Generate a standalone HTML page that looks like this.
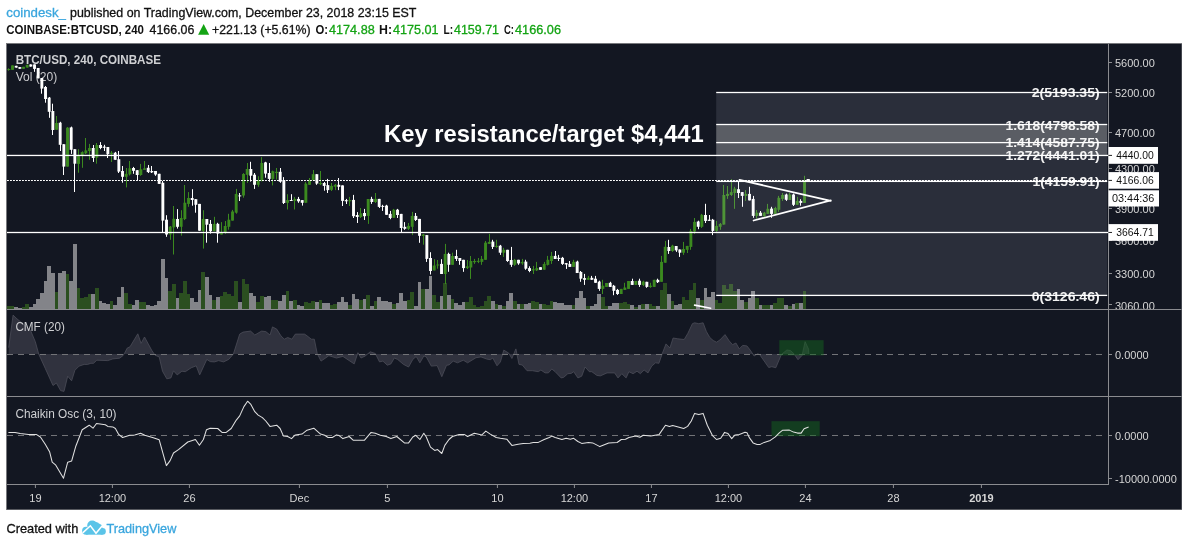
<!DOCTYPE html>
<html><head><meta charset="utf-8"><title>BTCUSD chart</title>
<style>html,body{margin:0;padding:0;background:#fff}body{width:1188px;height:546px;overflow:hidden;font-family:"Liberation Sans",sans-serif}</style>
</head><body>
<svg width="1188" height="546" viewBox="0 0 1188 546" style="display:block;will-change:transform">
<rect width="1188" height="546" fill="#fff"/>
<text x="6.3" y="17" font-family="Liberation Sans, sans-serif" font-size="13" fill="#3aa6de" font-weight="normal" text-anchor="start" textLength="59.7" lengthAdjust="spacingAndGlyphs" stroke="#3aa6de" stroke-width="0.3">coindesk_</text>
<text x="70" y="17" font-family="Liberation Sans, sans-serif" font-size="13" fill="#111" font-weight="normal" text-anchor="start" textLength="346.4" lengthAdjust="spacingAndGlyphs" stroke="#111" stroke-width="0.3">published on TradingView.com, December 23, 2018 23:15 EST</text>
<text x="6.3" y="34" font-family="Liberation Sans, sans-serif" font-size="13" fill="#111" font-weight="bold" text-anchor="start" textLength="137.7" lengthAdjust="spacingAndGlyphs">COINBASE:BTCUSD, 240</text>
<text x="149.5" y="34" font-family="Liberation Sans, sans-serif" font-size="13" fill="#111" font-weight="normal" text-anchor="start" textLength="44.9" lengthAdjust="spacingAndGlyphs" stroke="#111" stroke-width="0.3">4166.06</text>
<path d="M198.1 34.7 L203.65 24 L209.2 34.7 Z" fill="#14a414"/>
<text x="212" y="34" font-family="Liberation Sans, sans-serif" font-size="13" fill="#111" font-weight="normal" text-anchor="start" textLength="98.6" lengthAdjust="spacingAndGlyphs" stroke="#111" stroke-width="0.3">+221.13 (+5.61%)</text>
<text x="315.4" y="34" font-family="Liberation Sans, sans-serif" font-size="13" fill="#111" font-weight="bold" text-anchor="start" textLength="12.6" lengthAdjust="spacingAndGlyphs">O:</text>
<text x="329" y="34" font-family="Liberation Sans, sans-serif" font-size="13" fill="#14a414" font-weight="normal" text-anchor="start" textLength="45.7" lengthAdjust="spacingAndGlyphs" stroke="#14a414" stroke-width="0.3">4174.88</text>
<text x="379" y="34" font-family="Liberation Sans, sans-serif" font-size="13" fill="#111" font-weight="bold" text-anchor="start" textLength="13" lengthAdjust="spacingAndGlyphs">H:</text>
<text x="393" y="34" font-family="Liberation Sans, sans-serif" font-size="13" fill="#14a414" font-weight="normal" text-anchor="start" textLength="45.6" lengthAdjust="spacingAndGlyphs" stroke="#14a414" stroke-width="0.3">4175.01</text>
<text x="443.6" y="34" font-family="Liberation Sans, sans-serif" font-size="13" fill="#111" font-weight="bold" text-anchor="start" textLength="9.6" lengthAdjust="spacingAndGlyphs">L:</text>
<text x="454" y="34" font-family="Liberation Sans, sans-serif" font-size="13" fill="#14a414" font-weight="normal" text-anchor="start" textLength="45" lengthAdjust="spacingAndGlyphs" stroke="#14a414" stroke-width="0.3">4159.71</text>
<text x="504" y="34" font-family="Liberation Sans, sans-serif" font-size="13" fill="#111" font-weight="bold" text-anchor="start" textLength="10" lengthAdjust="spacingAndGlyphs">C:</text>
<text x="515" y="34" font-family="Liberation Sans, sans-serif" font-size="13" fill="#14a414" font-weight="normal" text-anchor="start" textLength="46" lengthAdjust="spacingAndGlyphs" stroke="#14a414" stroke-width="0.3">4166.06</text>
<rect x="6" y="43" width="1176" height="467" fill="#77787c"/>
<rect x="7" y="44" width="1174.5" height="465.3" fill="#131722"/>
<text x="15.7" y="64.3" font-family="Liberation Sans, sans-serif" font-size="12" fill="#cfd0d3" font-weight="bold" text-anchor="start" textLength="145.3" lengthAdjust="spacingAndGlyphs">BTC/USD, 240, COINBASE</text>
<text x="15.7" y="81.4" font-family="Liberation Sans, sans-serif" font-size="12.3" fill="#c9cacd" font-weight="normal" text-anchor="start" textLength="41.6" lengthAdjust="spacingAndGlyphs">Vol (20)</text>
<rect x="7.02" y="306.1" width="3.67" height="3.1" fill="#2b4f20" shape-rendering="crispEdges"/>
<rect x="10.68" y="306.1" width="3.67" height="3.1" fill="#2b4f20" shape-rendering="crispEdges"/>
<rect x="14.35" y="307.3" width="3.67" height="1.9" fill="#838489" shape-rendering="crispEdges"/>
<rect x="18.02" y="308" width="3.67" height="1.2" fill="#838489" shape-rendering="crispEdges"/>
<rect x="21.68" y="307" width="3.67" height="2.2" fill="#2b4f20" shape-rendering="crispEdges"/>
<rect x="25.35" y="304.1" width="3.67" height="5.1" fill="#2b4f20" shape-rendering="crispEdges"/>
<rect x="29.02" y="307" width="3.67" height="2.2" fill="#838489" shape-rendering="crispEdges"/>
<rect x="32.68" y="304.1" width="3.67" height="5.1" fill="#838489" shape-rendering="crispEdges"/>
<rect x="36.35" y="299.1" width="3.67" height="10.1" fill="#838489" shape-rendering="crispEdges"/>
<rect x="40.02" y="293" width="3.67" height="16.2" fill="#838489" shape-rendering="crispEdges"/>
<rect x="43.68" y="280.8" width="3.67" height="28.4" fill="#838489" shape-rendering="crispEdges"/>
<rect x="47.35" y="265.8" width="3.67" height="43.4" fill="#838489" shape-rendering="crispEdges"/>
<rect x="51.02" y="272.9" width="3.67" height="36.3" fill="#838489" shape-rendering="crispEdges"/>
<rect x="54.68" y="292" width="3.67" height="17.2" fill="#2b4f20" shape-rendering="crispEdges"/>
<rect x="58.35" y="272.9" width="3.67" height="36.3" fill="#838489" shape-rendering="crispEdges"/>
<rect x="62.02" y="271.1" width="3.67" height="38.1" fill="#838489" shape-rendering="crispEdges"/>
<rect x="65.68" y="273.9" width="3.67" height="35.3" fill="#2b4f20" shape-rendering="crispEdges"/>
<rect x="69.35" y="280.8" width="3.67" height="28.4" fill="#838489" shape-rendering="crispEdges"/>
<rect x="73.02" y="243.9" width="3.67" height="65.3" fill="#838489" shape-rendering="crispEdges"/>
<rect x="76.68" y="287.9" width="3.67" height="21.3" fill="#2b4f20" shape-rendering="crispEdges"/>
<rect x="80.35" y="297.7" width="3.67" height="11.5" fill="#2b4f20" shape-rendering="crispEdges"/>
<rect x="84.02" y="296.8" width="3.67" height="12.4" fill="#2b4f20" shape-rendering="crispEdges"/>
<rect x="87.68" y="294" width="3.67" height="15.2" fill="#2b4f20" shape-rendering="crispEdges"/>
<rect x="91.35" y="294" width="3.67" height="15.2" fill="#838489" shape-rendering="crispEdges"/>
<rect x="95.02" y="287.9" width="3.67" height="21.3" fill="#2b4f20" shape-rendering="crispEdges"/>
<rect x="98.68" y="300.8" width="3.67" height="8.4" fill="#838489" shape-rendering="crispEdges"/>
<rect x="102.35" y="303" width="3.67" height="6.2" fill="#838489" shape-rendering="crispEdges"/>
<rect x="106.02" y="304.1" width="3.67" height="5.1" fill="#838489" shape-rendering="crispEdges"/>
<rect x="109.68" y="300.8" width="3.67" height="8.4" fill="#2b4f20" shape-rendering="crispEdges"/>
<rect x="113.35" y="305.1" width="3.67" height="4.1" fill="#838489" shape-rendering="crispEdges"/>
<rect x="117.02" y="296.8" width="3.67" height="12.4" fill="#838489" shape-rendering="crispEdges"/>
<rect x="120.68" y="286.8" width="3.67" height="22.4" fill="#838489" shape-rendering="crispEdges"/>
<rect x="124.35" y="293" width="3.67" height="16.2" fill="#2b4f20" shape-rendering="crispEdges"/>
<rect x="128.02" y="304.1" width="3.67" height="5.1" fill="#2b4f20" shape-rendering="crispEdges"/>
<rect x="131.68" y="305.1" width="3.67" height="4.1" fill="#838489" shape-rendering="crispEdges"/>
<rect x="135.35" y="300.1" width="3.67" height="9.1" fill="#838489" shape-rendering="crispEdges"/>
<rect x="139.02" y="302" width="3.67" height="7.2" fill="#2b4f20" shape-rendering="crispEdges"/>
<rect x="142.68" y="302" width="3.67" height="7.2" fill="#2b4f20" shape-rendering="crispEdges"/>
<rect x="146.35" y="305.1" width="3.67" height="4.1" fill="#838489" shape-rendering="crispEdges"/>
<rect x="150.02" y="305.8" width="3.67" height="3.4" fill="#838489" shape-rendering="crispEdges"/>
<rect x="153.68" y="305.1" width="3.67" height="4.1" fill="#838489" shape-rendering="crispEdges"/>
<rect x="157.35" y="300.8" width="3.67" height="8.4" fill="#838489" shape-rendering="crispEdges"/>
<rect x="161.02" y="259" width="3.67" height="50.2" fill="#838489" shape-rendering="crispEdges"/>
<rect x="164.68" y="277.9" width="3.67" height="31.3" fill="#838489" shape-rendering="crispEdges"/>
<rect x="168.35" y="290.8" width="3.67" height="18.4" fill="#2b4f20" shape-rendering="crispEdges"/>
<rect x="172.02" y="283.9" width="3.67" height="25.3" fill="#2b4f20" shape-rendering="crispEdges"/>
<rect x="175.68" y="298" width="3.67" height="11.2" fill="#838489" shape-rendering="crispEdges"/>
<rect x="179.35" y="293" width="3.67" height="16.2" fill="#2b4f20" shape-rendering="crispEdges"/>
<rect x="183.02" y="280.8" width="3.67" height="28.4" fill="#2b4f20" shape-rendering="crispEdges"/>
<rect x="186.68" y="293.7" width="3.67" height="15.5" fill="#2b4f20" shape-rendering="crispEdges"/>
<rect x="190.35" y="298" width="3.67" height="11.2" fill="#838489" shape-rendering="crispEdges"/>
<rect x="194.02" y="302" width="3.67" height="7.2" fill="#838489" shape-rendering="crispEdges"/>
<rect x="197.69" y="289.8" width="3.67" height="19.4" fill="#838489" shape-rendering="crispEdges"/>
<rect x="201.35" y="271.9" width="3.67" height="37.3" fill="#2b4f20" shape-rendering="crispEdges"/>
<rect x="205.02" y="276.9" width="3.67" height="32.3" fill="#838489" shape-rendering="crispEdges"/>
<rect x="208.69" y="295.1" width="3.67" height="14.1" fill="#838489" shape-rendering="crispEdges"/>
<rect x="212.35" y="300.1" width="3.67" height="9.1" fill="#2b4f20" shape-rendering="crispEdges"/>
<rect x="216.02" y="296.8" width="3.67" height="12.4" fill="#838489" shape-rendering="crispEdges"/>
<rect x="219.69" y="295.8" width="3.67" height="13.4" fill="#2b4f20" shape-rendering="crispEdges"/>
<rect x="223.35" y="292" width="3.67" height="17.2" fill="#2b4f20" shape-rendering="crispEdges"/>
<rect x="227.02" y="294" width="3.67" height="15.2" fill="#2b4f20" shape-rendering="crispEdges"/>
<rect x="230.69" y="295.8" width="3.67" height="13.4" fill="#2b4f20" shape-rendering="crispEdges"/>
<rect x="234.35" y="280.8" width="3.67" height="28.4" fill="#2b4f20" shape-rendering="crispEdges"/>
<rect x="238.02" y="302" width="3.67" height="7.2" fill="#838489" shape-rendering="crispEdges"/>
<rect x="241.69" y="278.9" width="3.67" height="30.3" fill="#2b4f20" shape-rendering="crispEdges"/>
<rect x="245.35" y="283.9" width="3.67" height="25.3" fill="#2b4f20" shape-rendering="crispEdges"/>
<rect x="249.02" y="293" width="3.67" height="16.2" fill="#838489" shape-rendering="crispEdges"/>
<rect x="252.69" y="295.8" width="3.67" height="13.4" fill="#838489" shape-rendering="crispEdges"/>
<rect x="256.35" y="302" width="3.67" height="7.2" fill="#2b4f20" shape-rendering="crispEdges"/>
<rect x="260.02" y="295.8" width="3.67" height="13.4" fill="#2b4f20" shape-rendering="crispEdges"/>
<rect x="263.69" y="296.8" width="3.67" height="12.4" fill="#838489" shape-rendering="crispEdges"/>
<rect x="267.35" y="295.8" width="3.67" height="13.4" fill="#838489" shape-rendering="crispEdges"/>
<rect x="271.02" y="299.8" width="3.67" height="9.4" fill="#2b4f20" shape-rendering="crispEdges"/>
<rect x="274.69" y="299.8" width="3.67" height="9.4" fill="#2b4f20" shape-rendering="crispEdges"/>
<rect x="278.35" y="300.8" width="3.67" height="8.4" fill="#838489" shape-rendering="crispEdges"/>
<rect x="282.02" y="294.8" width="3.67" height="14.4" fill="#838489" shape-rendering="crispEdges"/>
<rect x="285.69" y="290.8" width="3.67" height="18.4" fill="#2b4f20" shape-rendering="crispEdges"/>
<rect x="289.35" y="300.8" width="3.67" height="8.4" fill="#838489" shape-rendering="crispEdges"/>
<rect x="293.02" y="299.8" width="3.67" height="9.4" fill="#2b4f20" shape-rendering="crispEdges"/>
<rect x="296.69" y="304.8" width="3.67" height="4.4" fill="#838489" shape-rendering="crispEdges"/>
<rect x="300.35" y="305.8" width="3.67" height="3.4" fill="#838489" shape-rendering="crispEdges"/>
<rect x="304.02" y="302" width="3.67" height="7.2" fill="#2b4f20" shape-rendering="crispEdges"/>
<rect x="307.69" y="303" width="3.67" height="6.2" fill="#2b4f20" shape-rendering="crispEdges"/>
<rect x="311.35" y="300.8" width="3.67" height="8.4" fill="#2b4f20" shape-rendering="crispEdges"/>
<rect x="315.02" y="302" width="3.67" height="7.2" fill="#838489" shape-rendering="crispEdges"/>
<rect x="318.69" y="299.8" width="3.67" height="9.4" fill="#2b4f20" shape-rendering="crispEdges"/>
<rect x="322.35" y="303" width="3.67" height="6.2" fill="#838489" shape-rendering="crispEdges"/>
<rect x="326.02" y="303" width="3.67" height="6.2" fill="#838489" shape-rendering="crispEdges"/>
<rect x="329.69" y="305.1" width="3.67" height="4.1" fill="#2b4f20" shape-rendering="crispEdges"/>
<rect x="333.35" y="304.1" width="3.67" height="5.1" fill="#2b4f20" shape-rendering="crispEdges"/>
<rect x="337.02" y="302" width="3.67" height="7.2" fill="#838489" shape-rendering="crispEdges"/>
<rect x="340.69" y="296.8" width="3.67" height="12.4" fill="#838489" shape-rendering="crispEdges"/>
<rect x="344.35" y="302" width="3.67" height="7.2" fill="#838489" shape-rendering="crispEdges"/>
<rect x="348.02" y="305.1" width="3.67" height="4.1" fill="#2b4f20" shape-rendering="crispEdges"/>
<rect x="351.69" y="293.7" width="3.67" height="15.5" fill="#838489" shape-rendering="crispEdges"/>
<rect x="355.35" y="299.1" width="3.67" height="10.1" fill="#838489" shape-rendering="crispEdges"/>
<rect x="359.02" y="299.8" width="3.67" height="9.4" fill="#2b4f20" shape-rendering="crispEdges"/>
<rect x="362.69" y="299.1" width="3.67" height="10.1" fill="#838489" shape-rendering="crispEdges"/>
<rect x="366.35" y="295.1" width="3.67" height="14.1" fill="#2b4f20" shape-rendering="crispEdges"/>
<rect x="370.02" y="306.1" width="3.67" height="3.1" fill="#838489" shape-rendering="crispEdges"/>
<rect x="373.69" y="301.1" width="3.67" height="8.1" fill="#2b4f20" shape-rendering="crispEdges"/>
<rect x="377.35" y="296.8" width="3.67" height="12.4" fill="#838489" shape-rendering="crispEdges"/>
<rect x="381.02" y="300.8" width="3.67" height="8.4" fill="#838489" shape-rendering="crispEdges"/>
<rect x="384.69" y="300.8" width="3.67" height="8.4" fill="#838489" shape-rendering="crispEdges"/>
<rect x="388.35" y="302" width="3.67" height="7.2" fill="#838489" shape-rendering="crispEdges"/>
<rect x="392.02" y="304.1" width="3.67" height="5.1" fill="#2b4f20" shape-rendering="crispEdges"/>
<rect x="395.69" y="303" width="3.67" height="6.2" fill="#838489" shape-rendering="crispEdges"/>
<rect x="399.35" y="293" width="3.67" height="16.2" fill="#838489" shape-rendering="crispEdges"/>
<rect x="403.02" y="300.8" width="3.67" height="8.4" fill="#838489" shape-rendering="crispEdges"/>
<rect x="406.69" y="300.1" width="3.67" height="9.1" fill="#2b4f20" shape-rendering="crispEdges"/>
<rect x="410.35" y="292" width="3.67" height="17.2" fill="#2b4f20" shape-rendering="crispEdges"/>
<rect x="414.02" y="306.1" width="3.67" height="3.1" fill="#838489" shape-rendering="crispEdges"/>
<rect x="417.69" y="281.9" width="3.67" height="27.3" fill="#838489" shape-rendering="crispEdges"/>
<rect x="421.35" y="289.1" width="3.67" height="20.1" fill="#2b4f20" shape-rendering="crispEdges"/>
<rect x="425.02" y="289.1" width="3.67" height="20.1" fill="#838489" shape-rendering="crispEdges"/>
<rect x="428.69" y="275.8" width="3.67" height="33.4" fill="#838489" shape-rendering="crispEdges"/>
<rect x="432.35" y="295.1" width="3.67" height="14.1" fill="#2b4f20" shape-rendering="crispEdges"/>
<rect x="436.02" y="302" width="3.67" height="7.2" fill="#2b4f20" shape-rendering="crispEdges"/>
<rect x="439.69" y="295.8" width="3.67" height="13.4" fill="#838489" shape-rendering="crispEdges"/>
<rect x="443.35" y="283" width="3.67" height="26.2" fill="#2b4f20" shape-rendering="crispEdges"/>
<rect x="447.02" y="295.1" width="3.67" height="14.1" fill="#838489" shape-rendering="crispEdges"/>
<rect x="450.69" y="299.1" width="3.67" height="10.1" fill="#2b4f20" shape-rendering="crispEdges"/>
<rect x="454.35" y="303" width="3.67" height="6.2" fill="#838489" shape-rendering="crispEdges"/>
<rect x="458.02" y="305.1" width="3.67" height="4.1" fill="#838489" shape-rendering="crispEdges"/>
<rect x="461.69" y="302" width="3.67" height="7.2" fill="#838489" shape-rendering="crispEdges"/>
<rect x="465.35" y="302" width="3.67" height="7.2" fill="#2b4f20" shape-rendering="crispEdges"/>
<rect x="469.02" y="296.8" width="3.67" height="12.4" fill="#2b4f20" shape-rendering="crispEdges"/>
<rect x="472.69" y="304.8" width="3.67" height="4.4" fill="#2b4f20" shape-rendering="crispEdges"/>
<rect x="476.35" y="306.5" width="3.67" height="2.7" fill="#2b4f20" shape-rendering="crispEdges"/>
<rect x="480.02" y="305.8" width="3.67" height="3.4" fill="#2b4f20" shape-rendering="crispEdges"/>
<rect x="483.69" y="301.1" width="3.67" height="8.1" fill="#2b4f20" shape-rendering="crispEdges"/>
<rect x="487.35" y="295.8" width="3.67" height="13.4" fill="#2b4f20" shape-rendering="crispEdges"/>
<rect x="491.02" y="300.8" width="3.67" height="8.4" fill="#838489" shape-rendering="crispEdges"/>
<rect x="494.69" y="304.1" width="3.67" height="5.1" fill="#2b4f20" shape-rendering="crispEdges"/>
<rect x="498.35" y="305.1" width="3.67" height="4.1" fill="#838489" shape-rendering="crispEdges"/>
<rect x="502.02" y="306.1" width="3.67" height="3.1" fill="#2b4f20" shape-rendering="crispEdges"/>
<rect x="505.69" y="300.8" width="3.67" height="8.4" fill="#838489" shape-rendering="crispEdges"/>
<rect x="509.35" y="293" width="3.67" height="16.2" fill="#838489" shape-rendering="crispEdges"/>
<rect x="513.02" y="300.8" width="3.67" height="8.4" fill="#2b4f20" shape-rendering="crispEdges"/>
<rect x="516.69" y="304.1" width="3.67" height="5.1" fill="#838489" shape-rendering="crispEdges"/>
<rect x="520.35" y="304.1" width="3.67" height="5.1" fill="#2b4f20" shape-rendering="crispEdges"/>
<rect x="524.02" y="304.1" width="3.67" height="5.1" fill="#838489" shape-rendering="crispEdges"/>
<rect x="527.69" y="303" width="3.67" height="6.2" fill="#838489" shape-rendering="crispEdges"/>
<rect x="531.35" y="301.1" width="3.67" height="8.1" fill="#2b4f20" shape-rendering="crispEdges"/>
<rect x="535.02" y="302" width="3.67" height="7.2" fill="#2b4f20" shape-rendering="crispEdges"/>
<rect x="538.69" y="304.1" width="3.67" height="5.1" fill="#838489" shape-rendering="crispEdges"/>
<rect x="542.35" y="304.1" width="3.67" height="5.1" fill="#2b4f20" shape-rendering="crispEdges"/>
<rect x="546.02" y="304.8" width="3.67" height="4.4" fill="#2b4f20" shape-rendering="crispEdges"/>
<rect x="549.69" y="301.1" width="3.67" height="8.1" fill="#2b4f20" shape-rendering="crispEdges"/>
<rect x="553.35" y="302" width="3.67" height="7.2" fill="#838489" shape-rendering="crispEdges"/>
<rect x="557.02" y="303" width="3.67" height="6.2" fill="#838489" shape-rendering="crispEdges"/>
<rect x="560.69" y="303" width="3.67" height="6.2" fill="#838489" shape-rendering="crispEdges"/>
<rect x="564.36" y="305.1" width="3.67" height="4.1" fill="#838489" shape-rendering="crispEdges"/>
<rect x="568.02" y="305.1" width="3.67" height="4.1" fill="#838489" shape-rendering="crispEdges"/>
<rect x="571.69" y="305.1" width="3.67" height="4.1" fill="#2b4f20" shape-rendering="crispEdges"/>
<rect x="575.36" y="298" width="3.67" height="11.2" fill="#838489" shape-rendering="crispEdges"/>
<rect x="579.02" y="291.1" width="3.67" height="18.1" fill="#838489" shape-rendering="crispEdges"/>
<rect x="582.69" y="298" width="3.67" height="11.2" fill="#838489" shape-rendering="crispEdges"/>
<rect x="586.36" y="306.1" width="3.67" height="3.1" fill="#2b4f20" shape-rendering="crispEdges"/>
<rect x="590.02" y="305.8" width="3.67" height="3.4" fill="#838489" shape-rendering="crispEdges"/>
<rect x="593.69" y="304.1" width="3.67" height="5.1" fill="#838489" shape-rendering="crispEdges"/>
<rect x="597.36" y="294" width="3.67" height="15.2" fill="#838489" shape-rendering="crispEdges"/>
<rect x="601.02" y="297.2" width="3.67" height="12" fill="#2b4f20" shape-rendering="crispEdges"/>
<rect x="604.69" y="306.1" width="3.67" height="3.1" fill="#2b4f20" shape-rendering="crispEdges"/>
<rect x="608.36" y="305.8" width="3.67" height="3.4" fill="#838489" shape-rendering="crispEdges"/>
<rect x="612.02" y="303" width="3.67" height="6.2" fill="#838489" shape-rendering="crispEdges"/>
<rect x="615.69" y="303" width="3.67" height="6.2" fill="#838489" shape-rendering="crispEdges"/>
<rect x="619.36" y="303" width="3.67" height="6.2" fill="#2b4f20" shape-rendering="crispEdges"/>
<rect x="623.02" y="302" width="3.67" height="7.2" fill="#2b4f20" shape-rendering="crispEdges"/>
<rect x="626.69" y="304.1" width="3.67" height="5.1" fill="#2b4f20" shape-rendering="crispEdges"/>
<rect x="630.36" y="305.1" width="3.67" height="4.1" fill="#838489" shape-rendering="crispEdges"/>
<rect x="634.02" y="307.3" width="3.67" height="1.9" fill="#2b4f20" shape-rendering="crispEdges"/>
<rect x="637.69" y="305.1" width="3.67" height="4.1" fill="#838489" shape-rendering="crispEdges"/>
<rect x="641.36" y="304.1" width="3.67" height="5.1" fill="#2b4f20" shape-rendering="crispEdges"/>
<rect x="645.02" y="304.1" width="3.67" height="5.1" fill="#838489" shape-rendering="crispEdges"/>
<rect x="648.69" y="304.1" width="3.67" height="5.1" fill="#2b4f20" shape-rendering="crispEdges"/>
<rect x="652.36" y="305.6" width="3.67" height="3.6" fill="#2b4f20" shape-rendering="crispEdges"/>
<rect x="656.02" y="306.1" width="3.67" height="3.1" fill="#838489" shape-rendering="crispEdges"/>
<rect x="659.69" y="290.1" width="3.67" height="19.1" fill="#2b4f20" shape-rendering="crispEdges"/>
<rect x="663.36" y="282.9" width="3.67" height="26.3" fill="#2b4f20" shape-rendering="crispEdges"/>
<rect x="667.02" y="294" width="3.67" height="15.2" fill="#838489" shape-rendering="crispEdges"/>
<rect x="670.69" y="301.1" width="3.67" height="8.1" fill="#2b4f20" shape-rendering="crispEdges"/>
<rect x="674.36" y="305.1" width="3.67" height="4.1" fill="#838489" shape-rendering="crispEdges"/>
<rect x="678.02" y="304.1" width="3.67" height="5.1" fill="#838489" shape-rendering="crispEdges"/>
<rect x="681.69" y="297.2" width="3.67" height="12" fill="#2b4f20" shape-rendering="crispEdges"/>
<rect x="685.36" y="300.1" width="3.67" height="9.1" fill="#2b4f20" shape-rendering="crispEdges"/>
<rect x="689.02" y="290.1" width="3.67" height="19.1" fill="#2b4f20" shape-rendering="crispEdges"/>
<rect x="692.69" y="282.9" width="3.67" height="26.3" fill="#2b4f20" shape-rendering="crispEdges"/>
<rect x="696.36" y="298" width="3.67" height="11.2" fill="#838489" shape-rendering="crispEdges"/>
<rect x="700.02" y="300.1" width="3.67" height="9.1" fill="#2b4f20" shape-rendering="crispEdges"/>
<rect x="703.69" y="287.9" width="3.67" height="21.3" fill="#838489" shape-rendering="crispEdges"/>
<rect x="707.36" y="296.8" width="3.67" height="12.4" fill="#838489" shape-rendering="crispEdges"/>
<rect x="711.02" y="292" width="3.67" height="17.2" fill="#838489" shape-rendering="crispEdges"/>
<rect x="714.69" y="300.1" width="3.67" height="9.1" fill="#2b4f20" shape-rendering="crispEdges"/>
<rect x="718.36" y="303" width="3.67" height="6.2" fill="#2b4f20" shape-rendering="crispEdges"/>
<rect x="722.02" y="284.8" width="3.67" height="24.4" fill="#2b4f20" shape-rendering="crispEdges"/>
<rect x="725.69" y="288.7" width="3.67" height="20.5" fill="#2b4f20" shape-rendering="crispEdges"/>
<rect x="729.36" y="283.9" width="3.67" height="25.3" fill="#2b4f20" shape-rendering="crispEdges"/>
<rect x="733.02" y="290.8" width="3.67" height="18.4" fill="#2b4f20" shape-rendering="crispEdges"/>
<rect x="736.69" y="289.1" width="3.67" height="20.1" fill="#838489" shape-rendering="crispEdges"/>
<rect x="740.36" y="300.1" width="3.67" height="9.1" fill="#838489" shape-rendering="crispEdges"/>
<rect x="744.02" y="302" width="3.67" height="7.2" fill="#2b4f20" shape-rendering="crispEdges"/>
<rect x="747.69" y="298" width="3.67" height="11.2" fill="#838489" shape-rendering="crispEdges"/>
<rect x="751.36" y="291.1" width="3.67" height="18.1" fill="#838489" shape-rendering="crispEdges"/>
<rect x="755.02" y="298" width="3.67" height="11.2" fill="#2b4f20" shape-rendering="crispEdges"/>
<rect x="758.69" y="305.1" width="3.67" height="4.1" fill="#838489" shape-rendering="crispEdges"/>
<rect x="762.36" y="305.1" width="3.67" height="4.1" fill="#2b4f20" shape-rendering="crispEdges"/>
<rect x="766.02" y="305.1" width="3.67" height="4.1" fill="#2b4f20" shape-rendering="crispEdges"/>
<rect x="769.69" y="305.1" width="3.67" height="4.1" fill="#838489" shape-rendering="crispEdges"/>
<rect x="773.36" y="303" width="3.67" height="6.2" fill="#2b4f20" shape-rendering="crispEdges"/>
<rect x="777.02" y="298" width="3.67" height="11.2" fill="#2b4f20" shape-rendering="crispEdges"/>
<rect x="780.69" y="298" width="3.67" height="11.2" fill="#2b4f20" shape-rendering="crispEdges"/>
<rect x="784.36" y="305.1" width="3.67" height="4.1" fill="#838489" shape-rendering="crispEdges"/>
<rect x="788.02" y="306.1" width="3.67" height="3.1" fill="#2b4f20" shape-rendering="crispEdges"/>
<rect x="791.69" y="304.1" width="3.67" height="5.1" fill="#838489" shape-rendering="crispEdges"/>
<rect x="795.36" y="303" width="3.67" height="6.2" fill="#2b4f20" shape-rendering="crispEdges"/>
<rect x="799.02" y="303" width="3.67" height="6.2" fill="#838489" shape-rendering="crispEdges"/>
<rect x="802.69" y="291.1" width="3.67" height="18.1" fill="#2b4f20" shape-rendering="crispEdges"/>
<rect x="8" y="68.3" width="1" height="2.4" fill="#3b8a1f"/>
<rect x="7.4" y="69" width="2.9" height="1" fill="#3b8a1f"/>
<rect x="12" y="65.4" width="1" height="4.4" fill="#3b8a1f"/>
<rect x="11.07" y="65.4" width="2.9" height="4.4" fill="#3b8a1f"/>
<rect x="16" y="65.8" width="1" height="1.8" fill="#ffffff"/>
<rect x="14.73" y="65.8" width="2.9" height="1.8" fill="#ffffff"/>
<rect x="19" y="67.1" width="1" height="1.7" fill="#ffffff"/>
<rect x="18.4" y="67.1" width="2.9" height="1.7" fill="#ffffff"/>
<rect x="23" y="66.8" width="1" height="2" fill="#3b8a1f"/>
<rect x="22.07" y="66.8" width="2.9" height="2" fill="#3b8a1f"/>
<rect x="27" y="64.8" width="1" height="2.8" fill="#3b8a1f"/>
<rect x="25.73" y="64.8" width="2.9" height="2.8" fill="#3b8a1f"/>
<rect x="30" y="64.4" width="1" height="2.2" fill="#ffffff"/>
<rect x="29.4" y="64.4" width="2.9" height="2.2" fill="#ffffff"/>
<rect x="34" y="64.4" width="1" height="7.4" fill="#ffffff"/>
<rect x="33.07" y="64.4" width="2.9" height="4.5" fill="#ffffff"/>
<rect x="38" y="68" width="1" height="10.3" fill="#ffffff"/>
<rect x="36.73" y="68" width="2.9" height="10.3" fill="#ffffff"/>
<rect x="41" y="78" width="1" height="15.7" fill="#ffffff"/>
<rect x="40.4" y="78" width="2.9" height="10.6" fill="#ffffff"/>
<rect x="45" y="86" width="1" height="16.7" fill="#ffffff"/>
<rect x="44.07" y="87" width="2.9" height="12" fill="#ffffff"/>
<rect x="49" y="97" width="1" height="20.8" fill="#ffffff"/>
<rect x="47.73" y="97.6" width="2.9" height="14.2" fill="#ffffff"/>
<rect x="52" y="103.7" width="1" height="31.3" fill="#ffffff"/>
<rect x="51.4" y="111" width="2.9" height="19" fill="#ffffff"/>
<rect x="56" y="116" width="1" height="13.7" fill="#3b8a1f"/>
<rect x="55.07" y="123" width="2.9" height="6.7" fill="#3b8a1f"/>
<rect x="60" y="121.8" width="1" height="29.2" fill="#ffffff"/>
<rect x="58.73" y="122.7" width="2.9" height="22.1" fill="#ffffff"/>
<rect x="63" y="144.2" width="1" height="30.8" fill="#ffffff"/>
<rect x="62.4" y="144.2" width="2.9" height="22.4" fill="#ffffff"/>
<rect x="67" y="127" width="1" height="39.6" fill="#3b8a1f"/>
<rect x="66.07" y="127.7" width="2.9" height="38.9" fill="#3b8a1f"/>
<rect x="71" y="126.6" width="1" height="27.3" fill="#ffffff"/>
<rect x="69.73" y="127.4" width="2.9" height="22.4" fill="#ffffff"/>
<rect x="74" y="149.2" width="1" height="42.8" fill="#ffffff"/>
<rect x="73.4" y="149.2" width="2.9" height="14.5" fill="#ffffff"/>
<rect x="78" y="149.2" width="1" height="23.5" fill="#3b8a1f"/>
<rect x="77.07" y="155" width="2.9" height="8.9" fill="#3b8a1f"/>
<rect x="82" y="151.3" width="1" height="16.5" fill="#3b8a1f"/>
<rect x="80.73" y="152.1" width="2.9" height="2.9" fill="#3b8a1f"/>
<rect x="85" y="138" width="1" height="16" fill="#3b8a1f"/>
<rect x="84.4" y="150.4" width="2.9" height="2.9" fill="#3b8a1f"/>
<rect x="89" y="143.9" width="1" height="15.9" fill="#3b8a1f"/>
<rect x="88.07" y="148" width="2.9" height="3" fill="#3b8a1f"/>
<rect x="93" y="145" width="1" height="16.9" fill="#ffffff"/>
<rect x="91.73" y="148" width="2.9" height="10" fill="#ffffff"/>
<rect x="96" y="143" width="1" height="20.7" fill="#3b8a1f"/>
<rect x="95.4" y="145" width="2.9" height="12.7" fill="#3b8a1f"/>
<rect x="100" y="142.1" width="1" height="7.1" fill="#ffffff"/>
<rect x="99.07" y="145" width="2.9" height="3" fill="#ffffff"/>
<rect x="104" y="144.8" width="1" height="6.2" fill="#ffffff"/>
<rect x="102.73" y="146.6" width="2.9" height="1.2" fill="#ffffff"/>
<rect x="107" y="147" width="1" height="11" fill="#ffffff"/>
<rect x="106.4" y="147" width="2.9" height="7.2" fill="#ffffff"/>
<rect x="111" y="151" width="1" height="11" fill="#3b8a1f"/>
<rect x="110.07" y="152.7" width="2.9" height="1.4" fill="#3b8a1f"/>
<rect x="115" y="151.9" width="1" height="7.9" fill="#ffffff"/>
<rect x="113.73" y="152.7" width="2.9" height="7.1" fill="#ffffff"/>
<rect x="118" y="151" width="1" height="22" fill="#ffffff"/>
<rect x="117.4" y="159.2" width="2.9" height="12.4" fill="#ffffff"/>
<rect x="122" y="166" width="1" height="16.7" fill="#ffffff"/>
<rect x="121.07" y="171" width="2.9" height="5.8" fill="#ffffff"/>
<rect x="126" y="168" width="1" height="19.4" fill="#3b8a1f"/>
<rect x="124.73" y="173.8" width="2.9" height="3" fill="#3b8a1f"/>
<rect x="129" y="161" width="1" height="14.5" fill="#3b8a1f"/>
<rect x="128.4" y="168.3" width="2.9" height="6.1" fill="#3b8a1f"/>
<rect x="133" y="166.9" width="1" height="6.9" fill="#ffffff"/>
<rect x="132.07" y="168" width="2.9" height="2.8" fill="#ffffff"/>
<rect x="137" y="170.2" width="1" height="10.5" fill="#ffffff"/>
<rect x="135.73" y="170.2" width="2.9" height="4.8" fill="#ffffff"/>
<rect x="140" y="163.9" width="1" height="11.9" fill="#3b8a1f"/>
<rect x="139.4" y="169.3" width="2.9" height="5.7" fill="#3b8a1f"/>
<rect x="144" y="161" width="1" height="8.8" fill="#3b8a1f"/>
<rect x="143.07" y="168.4" width="2.9" height="1.4" fill="#3b8a1f"/>
<rect x="148" y="165" width="1" height="8" fill="#ffffff"/>
<rect x="146.73" y="167.8" width="2.9" height="4.3" fill="#ffffff"/>
<rect x="151" y="166" width="1" height="7" fill="#ffffff"/>
<rect x="150.4" y="171" width="2.9" height="1.4" fill="#ffffff"/>
<rect x="155" y="171" width="1" height="4.8" fill="#ffffff"/>
<rect x="154.07" y="171" width="2.9" height="3.5" fill="#ffffff"/>
<rect x="159" y="173.8" width="1" height="10.1" fill="#ffffff"/>
<rect x="157.73" y="173.8" width="2.9" height="10.1" fill="#ffffff"/>
<rect x="162" y="180.9" width="1" height="51.2" fill="#ffffff"/>
<rect x="161.4" y="182.7" width="2.9" height="37.9" fill="#ffffff"/>
<rect x="166" y="215.2" width="1" height="21.6" fill="#ffffff"/>
<rect x="165.07" y="219.7" width="2.9" height="14.8" fill="#ffffff"/>
<rect x="170" y="226" width="1" height="13.8" fill="#3b8a1f"/>
<rect x="168.73" y="226.6" width="2.9" height="7.9" fill="#3b8a1f"/>
<rect x="173" y="206" width="1" height="48.5" fill="#3b8a1f"/>
<rect x="172.4" y="218.8" width="2.9" height="8.6" fill="#3b8a1f"/>
<rect x="177" y="209.1" width="1" height="19.5" fill="#ffffff"/>
<rect x="176.07" y="219" width="2.9" height="7.8" fill="#ffffff"/>
<rect x="181" y="210.2" width="1" height="25.4" fill="#3b8a1f"/>
<rect x="179.73" y="218" width="2.9" height="8.8" fill="#3b8a1f"/>
<rect x="184" y="185" width="1" height="35.1" fill="#3b8a1f"/>
<rect x="183.4" y="202.7" width="2.9" height="16.4" fill="#3b8a1f"/>
<rect x="188" y="192.1" width="1" height="14.7" fill="#3b8a1f"/>
<rect x="187.07" y="198" width="2.9" height="5.9" fill="#3b8a1f"/>
<rect x="192" y="189.2" width="1" height="16.5" fill="#ffffff"/>
<rect x="190.74" y="198" width="2.9" height="2" fill="#ffffff"/>
<rect x="195" y="199.2" width="1" height="13.5" fill="#ffffff"/>
<rect x="194.4" y="199.2" width="2.9" height="5.6" fill="#ffffff"/>
<rect x="199" y="203.9" width="1" height="26.8" fill="#ffffff"/>
<rect x="198.07" y="203.9" width="2.9" height="26.8" fill="#ffffff"/>
<rect x="203" y="210.2" width="1" height="38.4" fill="#3b8a1f"/>
<rect x="201.74" y="218.9" width="2.9" height="12" fill="#3b8a1f"/>
<rect x="206" y="219" width="1" height="23.7" fill="#ffffff"/>
<rect x="205.4" y="219" width="2.9" height="5.7" fill="#ffffff"/>
<rect x="210" y="220" width="1" height="13.6" fill="#ffffff"/>
<rect x="209.07" y="223.9" width="2.9" height="7.3" fill="#ffffff"/>
<rect x="214" y="216.8" width="1" height="14.4" fill="#3b8a1f"/>
<rect x="212.74" y="223.9" width="2.9" height="7.3" fill="#3b8a1f"/>
<rect x="217" y="222.8" width="1" height="19.9" fill="#ffffff"/>
<rect x="216.4" y="223.8" width="2.9" height="9.8" fill="#ffffff"/>
<rect x="221" y="222.1" width="1" height="12.4" fill="#3b8a1f"/>
<rect x="220.07" y="232.7" width="2.9" height="1.8" fill="#3b8a1f"/>
<rect x="225" y="221" width="1" height="12.9" fill="#3b8a1f"/>
<rect x="223.74" y="226" width="2.9" height="6.1" fill="#3b8a1f"/>
<rect x="228" y="213.8" width="1" height="15.9" fill="#3b8a1f"/>
<rect x="227.4" y="219.7" width="2.9" height="7.1" fill="#3b8a1f"/>
<rect x="232" y="209.9" width="1" height="10.7" fill="#3b8a1f"/>
<rect x="231.07" y="211.5" width="2.9" height="9.1" fill="#3b8a1f"/>
<rect x="236" y="188.9" width="1" height="24.8" fill="#3b8a1f"/>
<rect x="234.74" y="193.9" width="2.9" height="18.8" fill="#3b8a1f"/>
<rect x="239" y="193" width="1" height="8" fill="#ffffff"/>
<rect x="238.4" y="195.4" width="2.9" height="1" fill="#ffffff"/>
<rect x="243" y="173.1" width="1" height="24.6" fill="#3b8a1f"/>
<rect x="242.07" y="174" width="2.9" height="21.5" fill="#3b8a1f"/>
<rect x="247" y="163" width="1" height="19.8" fill="#3b8a1f"/>
<rect x="245.74" y="169" width="2.9" height="5.8" fill="#3b8a1f"/>
<rect x="250" y="161.8" width="1" height="19.8" fill="#ffffff"/>
<rect x="249.4" y="169" width="2.9" height="6.7" fill="#ffffff"/>
<rect x="254" y="173" width="1" height="15.9" fill="#ffffff"/>
<rect x="253.07" y="174.7" width="2.9" height="10.1" fill="#ffffff"/>
<rect x="258" y="176.2" width="1" height="10.6" fill="#3b8a1f"/>
<rect x="256.74" y="180.6" width="2.9" height="4.2" fill="#3b8a1f"/>
<rect x="261" y="157.1" width="1" height="24.1" fill="#3b8a1f"/>
<rect x="260.4" y="163" width="2.9" height="18.2" fill="#3b8a1f"/>
<rect x="265" y="161.8" width="1" height="15.9" fill="#ffffff"/>
<rect x="264.07" y="162.4" width="2.9" height="11.2" fill="#ffffff"/>
<rect x="269" y="163" width="1" height="18.8" fill="#ffffff"/>
<rect x="267.74" y="173" width="2.9" height="5.9" fill="#ffffff"/>
<rect x="272" y="170.6" width="1" height="14.8" fill="#3b8a1f"/>
<rect x="271.4" y="171.2" width="2.9" height="7.7" fill="#3b8a1f"/>
<rect x="276" y="168" width="1" height="11.5" fill="#3b8a1f"/>
<rect x="275.07" y="171.8" width="2.9" height="1.2" fill="#3b8a1f"/>
<rect x="280" y="168" width="1" height="14.8" fill="#ffffff"/>
<rect x="278.74" y="171.8" width="2.9" height="10" fill="#ffffff"/>
<rect x="283" y="177.1" width="1" height="26.9" fill="#ffffff"/>
<rect x="282.4" y="180" width="2.9" height="23" fill="#ffffff"/>
<rect x="287" y="194.2" width="1" height="15.3" fill="#3b8a1f"/>
<rect x="286.07" y="200.1" width="2.9" height="2.7" fill="#3b8a1f"/>
<rect x="291" y="194.2" width="1" height="6.7" fill="#ffffff"/>
<rect x="289.74" y="200" width="2.9" height="1" fill="#ffffff"/>
<rect x="294" y="196.9" width="1" height="12.6" fill="#3b8a1f"/>
<rect x="293.4" y="198.9" width="2.9" height="2" fill="#3b8a1f"/>
<rect x="298" y="196.9" width="1" height="5.9" fill="#ffffff"/>
<rect x="297.07" y="198.9" width="2.9" height="2.4" fill="#ffffff"/>
<rect x="302" y="200.1" width="1" height="5.5" fill="#ffffff"/>
<rect x="300.74" y="200.1" width="2.9" height="2.7" fill="#ffffff"/>
<rect x="305" y="182.1" width="1" height="20.7" fill="#3b8a1f"/>
<rect x="304.4" y="183.6" width="2.9" height="19.2" fill="#3b8a1f"/>
<rect x="309" y="178" width="1" height="6.8" fill="#3b8a1f"/>
<rect x="308.07" y="180.9" width="2.9" height="3.9" fill="#3b8a1f"/>
<rect x="313" y="170" width="1" height="10.4" fill="#3b8a1f"/>
<rect x="311.74" y="174.2" width="2.9" height="6.2" fill="#3b8a1f"/>
<rect x="316" y="174.2" width="1" height="10.6" fill="#ffffff"/>
<rect x="315.4" y="174.2" width="2.9" height="9.4" fill="#ffffff"/>
<rect x="320" y="171" width="1" height="14.1" fill="#3b8a1f"/>
<rect x="319.07" y="183" width="2.9" height="1.2" fill="#3b8a1f"/>
<rect x="324" y="182" width="1" height="8.7" fill="#ffffff"/>
<rect x="322.74" y="183" width="2.9" height="2.9" fill="#ffffff"/>
<rect x="327" y="178.9" width="1" height="14.1" fill="#ffffff"/>
<rect x="326.4" y="185.1" width="2.9" height="5" fill="#ffffff"/>
<rect x="331" y="183" width="1" height="8" fill="#3b8a1f"/>
<rect x="330.07" y="185.9" width="2.9" height="3.9" fill="#3b8a1f"/>
<rect x="335" y="183.9" width="1" height="6.2" fill="#3b8a1f"/>
<rect x="333.74" y="184.8" width="2.9" height="2" fill="#3b8a1f"/>
<rect x="338" y="178" width="1" height="12.1" fill="#ffffff"/>
<rect x="337.4" y="184.8" width="2.9" height="2" fill="#ffffff"/>
<rect x="342" y="185.4" width="1" height="20.6" fill="#ffffff"/>
<rect x="341.07" y="185.4" width="2.9" height="15.5" fill="#ffffff"/>
<rect x="346" y="198.9" width="1" height="5.1" fill="#ffffff"/>
<rect x="344.74" y="200.1" width="2.9" height="1.2" fill="#ffffff"/>
<rect x="349" y="196.9" width="1" height="9.1" fill="#3b8a1f"/>
<rect x="348.4" y="200.1" width="2.9" height="1.2" fill="#3b8a1f"/>
<rect x="353" y="194.9" width="1" height="23.1" fill="#ffffff"/>
<rect x="352.07" y="199.9" width="2.9" height="16.3" fill="#ffffff"/>
<rect x="357" y="212.1" width="1" height="10.9" fill="#ffffff"/>
<rect x="355.74" y="215" width="2.9" height="2" fill="#ffffff"/>
<rect x="360" y="208" width="1" height="10" fill="#3b8a1f"/>
<rect x="359.4" y="213.3" width="2.9" height="3.7" fill="#3b8a1f"/>
<rect x="364" y="208.9" width="1" height="11.1" fill="#ffffff"/>
<rect x="363.07" y="213" width="2.9" height="3.2" fill="#ffffff"/>
<rect x="368" y="199" width="1" height="24.9" fill="#3b8a1f"/>
<rect x="366.74" y="199" width="2.9" height="16.9" fill="#3b8a1f"/>
<rect x="371" y="196.8" width="1" height="7.1" fill="#ffffff"/>
<rect x="370.4" y="198.9" width="2.9" height="3.1" fill="#ffffff"/>
<rect x="375" y="193" width="1" height="10" fill="#3b8a1f"/>
<rect x="374.07" y="198.9" width="2.9" height="3.1" fill="#3b8a1f"/>
<rect x="379" y="198.9" width="1" height="9.1" fill="#ffffff"/>
<rect x="377.74" y="198.9" width="2.9" height="8" fill="#ffffff"/>
<rect x="382" y="204.8" width="1" height="6.1" fill="#ffffff"/>
<rect x="381.4" y="205.9" width="2.9" height="1" fill="#ffffff"/>
<rect x="386" y="204.8" width="1" height="10" fill="#ffffff"/>
<rect x="385.07" y="205.6" width="2.9" height="9.2" fill="#ffffff"/>
<rect x="390" y="210.9" width="1" height="8.3" fill="#ffffff"/>
<rect x="388.74" y="213.9" width="2.9" height="4.1" fill="#ffffff"/>
<rect x="393" y="208.9" width="1" height="8.9" fill="#3b8a1f"/>
<rect x="392.4" y="209.7" width="2.9" height="8.1" fill="#3b8a1f"/>
<rect x="397" y="208.9" width="1" height="9.1" fill="#ffffff"/>
<rect x="396.07" y="209.7" width="2.9" height="5.3" fill="#ffffff"/>
<rect x="401" y="213.9" width="1" height="18.2" fill="#ffffff"/>
<rect x="399.74" y="213.9" width="2.9" height="14.1" fill="#ffffff"/>
<rect x="404" y="222.1" width="1" height="7.7" fill="#ffffff"/>
<rect x="403.4" y="226.8" width="2.9" height="2" fill="#ffffff"/>
<rect x="408" y="223" width="1" height="7" fill="#3b8a1f"/>
<rect x="407.07" y="225.9" width="2.9" height="2.9" fill="#3b8a1f"/>
<rect x="412" y="211.9" width="1" height="23.2" fill="#3b8a1f"/>
<rect x="410.74" y="215.9" width="2.9" height="10.9" fill="#3b8a1f"/>
<rect x="415" y="213" width="1" height="8" fill="#ffffff"/>
<rect x="414.4" y="215.9" width="2.9" height="4.1" fill="#ffffff"/>
<rect x="419" y="218.9" width="1" height="23.9" fill="#ffffff"/>
<rect x="418.07" y="218.9" width="2.9" height="16.9" fill="#ffffff"/>
<rect x="423" y="234" width="1" height="10.7" fill="#3b8a1f"/>
<rect x="421.74" y="234.5" width="2.9" height="1.5" fill="#3b8a1f"/>
<rect x="426" y="235.1" width="1" height="26.8" fill="#ffffff"/>
<rect x="425.4" y="235.1" width="2.9" height="23.8" fill="#ffffff"/>
<rect x="430" y="252.2" width="1" height="22.3" fill="#ffffff"/>
<rect x="429.07" y="258" width="2.9" height="13" fill="#ffffff"/>
<rect x="434" y="259.2" width="1" height="11.2" fill="#3b8a1f"/>
<rect x="432.74" y="265.5" width="2.9" height="4.9" fill="#3b8a1f"/>
<rect x="437" y="260" width="1" height="8.7" fill="#3b8a1f"/>
<rect x="436.4" y="264.5" width="2.9" height="1" fill="#3b8a1f"/>
<rect x="441" y="259.2" width="1" height="14.8" fill="#ffffff"/>
<rect x="440.07" y="263.9" width="2.9" height="10.1" fill="#ffffff"/>
<rect x="445" y="243.9" width="1" height="40.1" fill="#3b8a1f"/>
<rect x="443.74" y="253.9" width="2.9" height="20.1" fill="#3b8a1f"/>
<rect x="448" y="252.7" width="1" height="19.1" fill="#ffffff"/>
<rect x="447.4" y="253.9" width="2.9" height="10.9" fill="#ffffff"/>
<rect x="452" y="252.7" width="1" height="12.1" fill="#3b8a1f"/>
<rect x="451.07" y="256" width="2.9" height="8.8" fill="#3b8a1f"/>
<rect x="456" y="249.8" width="1" height="11.2" fill="#ffffff"/>
<rect x="454.74" y="256" width="2.9" height="2.9" fill="#ffffff"/>
<rect x="459" y="258" width="1" height="6.8" fill="#ffffff"/>
<rect x="458.4" y="258" width="2.9" height="3" fill="#ffffff"/>
<rect x="463" y="259.8" width="1" height="12" fill="#ffffff"/>
<rect x="462.07" y="259.8" width="2.9" height="8.3" fill="#ffffff"/>
<rect x="467" y="260" width="1" height="9" fill="#3b8a1f"/>
<rect x="465.74" y="266.3" width="2.9" height="1.8" fill="#3b8a1f"/>
<rect x="470" y="256" width="1" height="22.9" fill="#3b8a1f"/>
<rect x="469.4" y="261" width="2.9" height="6.5" fill="#3b8a1f"/>
<rect x="474" y="258.9" width="1" height="5" fill="#3b8a1f"/>
<rect x="473.07" y="261" width="2.9" height="1.2" fill="#3b8a1f"/>
<rect x="478" y="258" width="1" height="5.1" fill="#3b8a1f"/>
<rect x="476.74" y="260.8" width="2.9" height="1.1" fill="#3b8a1f"/>
<rect x="481" y="256" width="1" height="8.8" fill="#3b8a1f"/>
<rect x="480.4" y="258.9" width="2.9" height="3" fill="#3b8a1f"/>
<rect x="485" y="241" width="1" height="18.8" fill="#3b8a1f"/>
<rect x="484.07" y="242.7" width="2.9" height="17.1" fill="#3b8a1f"/>
<rect x="489" y="233.9" width="1" height="10" fill="#3b8a1f"/>
<rect x="487.74" y="241.9" width="2.9" height="2" fill="#3b8a1f"/>
<rect x="492" y="239.8" width="1" height="9.2" fill="#ffffff"/>
<rect x="491.4" y="241.6" width="2.9" height="5.3" fill="#ffffff"/>
<rect x="496" y="239.8" width="1" height="8" fill="#3b8a1f"/>
<rect x="495.07" y="245.9" width="2.9" height="1" fill="#3b8a1f"/>
<rect x="500" y="244.9" width="1" height="10" fill="#ffffff"/>
<rect x="498.74" y="245.7" width="2.9" height="7" fill="#ffffff"/>
<rect x="503" y="247.8" width="1" height="9.1" fill="#3b8a1f"/>
<rect x="502.4" y="249.8" width="2.9" height="2.9" fill="#3b8a1f"/>
<rect x="507" y="249.8" width="1" height="12.1" fill="#ffffff"/>
<rect x="506.07" y="249.8" width="2.9" height="11.2" fill="#ffffff"/>
<rect x="511" y="246.9" width="1" height="20" fill="#ffffff"/>
<rect x="509.74" y="260" width="2.9" height="4.8" fill="#ffffff"/>
<rect x="514" y="258.9" width="1" height="7" fill="#3b8a1f"/>
<rect x="513.4" y="259.8" width="2.9" height="5" fill="#3b8a1f"/>
<rect x="518" y="259.8" width="1" height="5" fill="#ffffff"/>
<rect x="517.07" y="259.8" width="2.9" height="3.6" fill="#ffffff"/>
<rect x="522" y="258.9" width="1" height="5.9" fill="#3b8a1f"/>
<rect x="520.74" y="261.9" width="2.9" height="1.5" fill="#3b8a1f"/>
<rect x="525" y="259.8" width="1" height="10" fill="#ffffff"/>
<rect x="524.4" y="261.6" width="2.9" height="7.1" fill="#ffffff"/>
<rect x="529" y="266.3" width="1" height="5.9" fill="#ffffff"/>
<rect x="528.07" y="268.1" width="2.9" height="2.9" fill="#ffffff"/>
<rect x="533" y="265.9" width="1" height="8.1" fill="#3b8a1f"/>
<rect x="531.74" y="269.2" width="2.9" height="1.2" fill="#3b8a1f"/>
<rect x="536" y="261.9" width="1" height="9.1" fill="#3b8a1f"/>
<rect x="535.4" y="268.1" width="2.9" height="2.3" fill="#3b8a1f"/>
<rect x="540" y="267.2" width="1" height="2.6" fill="#ffffff"/>
<rect x="539.07" y="267.2" width="2.9" height="2.6" fill="#ffffff"/>
<rect x="544" y="261.9" width="1" height="7.8" fill="#3b8a1f"/>
<rect x="542.74" y="263.9" width="2.9" height="5.8" fill="#3b8a1f"/>
<rect x="547" y="255.9" width="1" height="9.6" fill="#3b8a1f"/>
<rect x="546.4" y="259.8" width="2.9" height="5.1" fill="#3b8a1f"/>
<rect x="551" y="251.9" width="1" height="12" fill="#3b8a1f"/>
<rect x="550.07" y="255.9" width="2.9" height="5.1" fill="#3b8a1f"/>
<rect x="555" y="251" width="1" height="8" fill="#ffffff"/>
<rect x="553.74" y="255.9" width="2.9" height="3.1" fill="#ffffff"/>
<rect x="558" y="254.9" width="1" height="6.1" fill="#ffffff"/>
<rect x="557.4" y="257.8" width="2.9" height="1.2" fill="#ffffff"/>
<rect x="562" y="256.9" width="1" height="8" fill="#ffffff"/>
<rect x="561.07" y="257.8" width="2.9" height="6.1" fill="#ffffff"/>
<rect x="566" y="263.1" width="1" height="5.8" fill="#ffffff"/>
<rect x="564.74" y="263.1" width="2.9" height="1.4" fill="#ffffff"/>
<rect x="569" y="261" width="1" height="5.9" fill="#ffffff"/>
<rect x="568.41" y="263.9" width="2.9" height="3" fill="#ffffff"/>
<rect x="573" y="259.8" width="1" height="7.1" fill="#3b8a1f"/>
<rect x="572.07" y="261.9" width="2.9" height="5" fill="#3b8a1f"/>
<rect x="577" y="260.7" width="1" height="12.3" fill="#ffffff"/>
<rect x="575.74" y="261.6" width="2.9" height="11.4" fill="#ffffff"/>
<rect x="580" y="271" width="1" height="10.8" fill="#ffffff"/>
<rect x="579.41" y="271.9" width="2.9" height="6.8" fill="#ffffff"/>
<rect x="584" y="273.9" width="1" height="11" fill="#ffffff"/>
<rect x="583.07" y="278.1" width="2.9" height="1.7" fill="#ffffff"/>
<rect x="588" y="275.9" width="1" height="3.9" fill="#3b8a1f"/>
<rect x="586.74" y="277.8" width="2.9" height="2" fill="#3b8a1f"/>
<rect x="591" y="275.9" width="1" height="3.9" fill="#ffffff"/>
<rect x="590.41" y="277.8" width="2.9" height="2" fill="#ffffff"/>
<rect x="595" y="275.9" width="1" height="6.9" fill="#ffffff"/>
<rect x="594.07" y="278.7" width="2.9" height="4.1" fill="#ffffff"/>
<rect x="599" y="280.7" width="1" height="10.1" fill="#ffffff"/>
<rect x="597.74" y="281.6" width="2.9" height="7.3" fill="#ffffff"/>
<rect x="602" y="279.8" width="1" height="14.2" fill="#3b8a1f"/>
<rect x="601.41" y="285.7" width="2.9" height="3.2" fill="#3b8a1f"/>
<rect x="606" y="283" width="1" height="3.9" fill="#3b8a1f"/>
<rect x="605.07" y="283" width="2.9" height="3.9" fill="#3b8a1f"/>
<rect x="610" y="281.8" width="1" height="5.1" fill="#ffffff"/>
<rect x="608.74" y="282.8" width="2.9" height="4.1" fill="#ffffff"/>
<rect x="613" y="284.9" width="1" height="10.3" fill="#ffffff"/>
<rect x="612.41" y="285.7" width="2.9" height="5.1" fill="#ffffff"/>
<rect x="617" y="288.9" width="1" height="6" fill="#ffffff"/>
<rect x="616.07" y="289.9" width="2.9" height="4.1" fill="#ffffff"/>
<rect x="621" y="288.9" width="1" height="5.1" fill="#3b8a1f"/>
<rect x="619.74" y="288.9" width="2.9" height="5.1" fill="#3b8a1f"/>
<rect x="624" y="282.8" width="1" height="7.1" fill="#3b8a1f"/>
<rect x="623.41" y="287.5" width="2.9" height="2.4" fill="#3b8a1f"/>
<rect x="628" y="281" width="1" height="7.9" fill="#3b8a1f"/>
<rect x="627.07" y="281" width="2.9" height="7.9" fill="#3b8a1f"/>
<rect x="632" y="278.7" width="1" height="6.2" fill="#ffffff"/>
<rect x="630.74" y="281" width="2.9" height="3.9" fill="#ffffff"/>
<rect x="635" y="281" width="1" height="3.9" fill="#3b8a1f"/>
<rect x="634.41" y="281" width="2.9" height="3.9" fill="#3b8a1f"/>
<rect x="639" y="278.7" width="1" height="8.2" fill="#ffffff"/>
<rect x="638.07" y="280.7" width="2.9" height="4.2" fill="#ffffff"/>
<rect x="643" y="280.7" width="1" height="5.4" fill="#3b8a1f"/>
<rect x="641.74" y="281.6" width="2.9" height="3.5" fill="#3b8a1f"/>
<rect x="646" y="281.8" width="1" height="6" fill="#ffffff"/>
<rect x="645.41" y="281.8" width="2.9" height="5.1" fill="#ffffff"/>
<rect x="650" y="282.8" width="1" height="5" fill="#3b8a1f"/>
<rect x="649.07" y="285.7" width="2.9" height="1.2" fill="#3b8a1f"/>
<rect x="654" y="279.8" width="1" height="7.1" fill="#3b8a1f"/>
<rect x="652.74" y="279.8" width="2.9" height="7.1" fill="#3b8a1f"/>
<rect x="657" y="278.7" width="1" height="4.3" fill="#ffffff"/>
<rect x="656.41" y="279.8" width="2.9" height="2.4" fill="#ffffff"/>
<rect x="661" y="255.9" width="1" height="25.9" fill="#3b8a1f"/>
<rect x="660.07" y="261.9" width="2.9" height="19.9" fill="#3b8a1f"/>
<rect x="665" y="240.9" width="1" height="21.8" fill="#3b8a1f"/>
<rect x="663.74" y="246.8" width="2.9" height="15.9" fill="#3b8a1f"/>
<rect x="668" y="239.8" width="1" height="14.1" fill="#ffffff"/>
<rect x="667.41" y="247" width="2.9" height="4" fill="#ffffff"/>
<rect x="672" y="244.8" width="1" height="7.1" fill="#3b8a1f"/>
<rect x="671.07" y="245.7" width="2.9" height="5.3" fill="#3b8a1f"/>
<rect x="676" y="246" width="1" height="5.9" fill="#ffffff"/>
<rect x="674.74" y="246" width="2.9" height="4.4" fill="#ffffff"/>
<rect x="679" y="249.5" width="1" height="7.4" fill="#ffffff"/>
<rect x="678.41" y="249.5" width="2.9" height="3.2" fill="#ffffff"/>
<rect x="683" y="241.9" width="1" height="13" fill="#3b8a1f"/>
<rect x="682.07" y="249" width="2.9" height="3.7" fill="#3b8a1f"/>
<rect x="687" y="245.9" width="1" height="7.1" fill="#3b8a1f"/>
<rect x="685.74" y="245.9" width="2.9" height="3.9" fill="#3b8a1f"/>
<rect x="690" y="228.9" width="1" height="20.9" fill="#3b8a1f"/>
<rect x="689.41" y="230.9" width="2.9" height="16" fill="#3b8a1f"/>
<rect x="694" y="218" width="1" height="15.9" fill="#3b8a1f"/>
<rect x="693.07" y="221.9" width="2.9" height="9.6" fill="#3b8a1f"/>
<rect x="698" y="220.7" width="1" height="8.5" fill="#ffffff"/>
<rect x="696.74" y="221.5" width="2.9" height="5.3" fill="#ffffff"/>
<rect x="701" y="213.9" width="1" height="14.1" fill="#3b8a1f"/>
<rect x="700.41" y="214.8" width="2.9" height="12" fill="#3b8a1f"/>
<rect x="705" y="203.8" width="1" height="19.2" fill="#ffffff"/>
<rect x="704.07" y="215" width="2.9" height="5.9" fill="#ffffff"/>
<rect x="709" y="215" width="1" height="5.9" fill="#ffffff"/>
<rect x="707.74" y="219.7" width="2.9" height="1.2" fill="#ffffff"/>
<rect x="712" y="218.9" width="1" height="16.2" fill="#ffffff"/>
<rect x="711.41" y="219.7" width="2.9" height="11.2" fill="#ffffff"/>
<rect x="716" y="220.9" width="1" height="10.9" fill="#3b8a1f"/>
<rect x="715.07" y="225.9" width="2.9" height="5" fill="#3b8a1f"/>
<rect x="720" y="223" width="1" height="6.8" fill="#3b8a1f"/>
<rect x="718.74" y="223.9" width="2.9" height="2.9" fill="#3b8a1f"/>
<rect x="723" y="185" width="1" height="39.6" fill="#3b8a1f"/>
<rect x="722.41" y="195" width="2.9" height="29.6" fill="#3b8a1f"/>
<rect x="727" y="186" width="1" height="12.9" fill="#3b8a1f"/>
<rect x="726.07" y="193.9" width="2.9" height="2" fill="#3b8a1f"/>
<rect x="731" y="179.1" width="1" height="16.8" fill="#3b8a1f"/>
<rect x="729.74" y="192.1" width="2.9" height="2.9" fill="#3b8a1f"/>
<rect x="734" y="186.8" width="1" height="22" fill="#3b8a1f"/>
<rect x="733.41" y="188.6" width="2.9" height="4.4" fill="#3b8a1f"/>
<rect x="738" y="181.3" width="1" height="16.7" fill="#ffffff"/>
<rect x="737.07" y="189.2" width="2.9" height="3.8" fill="#ffffff"/>
<rect x="742" y="192.1" width="1" height="14.7" fill="#ffffff"/>
<rect x="740.74" y="192.1" width="2.9" height="3.8" fill="#ffffff"/>
<rect x="745" y="190.1" width="1" height="10.8" fill="#3b8a1f"/>
<rect x="744.41" y="193.9" width="2.9" height="2" fill="#3b8a1f"/>
<rect x="749" y="186.8" width="1" height="13.6" fill="#ffffff"/>
<rect x="748.07" y="193.9" width="2.9" height="6.5" fill="#ffffff"/>
<rect x="753" y="195.9" width="1" height="21.9" fill="#ffffff"/>
<rect x="751.74" y="198.9" width="2.9" height="17" fill="#ffffff"/>
<rect x="756" y="210" width="1" height="8.6" fill="#3b8a1f"/>
<rect x="755.41" y="212.7" width="2.9" height="3.2" fill="#3b8a1f"/>
<rect x="760" y="211" width="1" height="4.9" fill="#ffffff"/>
<rect x="759.07" y="212.7" width="2.9" height="3.2" fill="#ffffff"/>
<rect x="764" y="211.9" width="1" height="4.9" fill="#3b8a1f"/>
<rect x="762.74" y="212.7" width="2.9" height="3.6" fill="#3b8a1f"/>
<rect x="767" y="203.9" width="1" height="10" fill="#3b8a1f"/>
<rect x="766.41" y="208.8" width="2.9" height="5.1" fill="#3b8a1f"/>
<rect x="771" y="206.8" width="1" height="11" fill="#ffffff"/>
<rect x="770.07" y="208.6" width="2.9" height="5.3" fill="#ffffff"/>
<rect x="775" y="206.8" width="1" height="7.1" fill="#3b8a1f"/>
<rect x="773.74" y="208" width="2.9" height="5.9" fill="#3b8a1f"/>
<rect x="778" y="195.9" width="1" height="16" fill="#3b8a1f"/>
<rect x="777.41" y="197.8" width="2.9" height="12" fill="#3b8a1f"/>
<rect x="782" y="193" width="1" height="7.9" fill="#3b8a1f"/>
<rect x="781.07" y="195" width="2.9" height="3.9" fill="#3b8a1f"/>
<rect x="786" y="193.6" width="1" height="7.3" fill="#ffffff"/>
<rect x="784.74" y="194.5" width="2.9" height="5.3" fill="#ffffff"/>
<rect x="789" y="193" width="1" height="7" fill="#3b8a1f"/>
<rect x="788.41" y="194.5" width="2.9" height="5.5" fill="#3b8a1f"/>
<rect x="793" y="193.6" width="1" height="12.4" fill="#ffffff"/>
<rect x="792.07" y="194.5" width="2.9" height="10.3" fill="#ffffff"/>
<rect x="797" y="196.8" width="1" height="8" fill="#3b8a1f"/>
<rect x="795.74" y="200.9" width="2.9" height="3.9" fill="#3b8a1f"/>
<rect x="800" y="199.2" width="1" height="6.5" fill="#ffffff"/>
<rect x="799.41" y="200.9" width="2.9" height="2" fill="#ffffff"/>
<rect x="804" y="175.8" width="1" height="27.1" fill="#3b8a1f"/>
<rect x="803.07" y="180.1" width="2.9" height="22.8" fill="#3b8a1f"/>
<rect x="716.2" y="92.5" width="391" height="32" fill="rgba(240,235,255,0.11)"/>
<rect x="716.2" y="124.5" width="391" height="18.1" fill="rgba(255,255,255,0.30)"/>
<rect x="716.2" y="142.6" width="391" height="12.8" fill="rgba(255,255,255,0.285)"/>
<rect x="716.2" y="155.4" width="391" height="26" fill="rgba(240,235,255,0.11)"/>
<rect x="716.2" y="181.4" width="391" height="114" fill="rgba(240,235,255,0.11)"/>
<text x="384.1" y="141.8" font-family="Liberation Sans, sans-serif" font-size="23" fill="#fff" font-weight="bold" text-anchor="start" textLength="319.7" lengthAdjust="spacingAndGlyphs">Key resistance/target $4,441</text>
<text x="1031.7" y="97.4" font-family="Liberation Sans, sans-serif" font-size="13" fill="#f2f2f2" font-weight="bold" text-anchor="start" textLength="68" lengthAdjust="spacingAndGlyphs">2(5193.35)</text>
<text x="1005.5" y="129.8" font-family="Liberation Sans, sans-serif" font-size="13" fill="#f2f2f2" font-weight="bold" text-anchor="start" textLength="94.2" lengthAdjust="spacingAndGlyphs">1.618(4798.58)</text>
<text x="1005.5" y="147.2" font-family="Liberation Sans, sans-serif" font-size="13" fill="#f2f2f2" font-weight="bold" text-anchor="start" textLength="94.2" lengthAdjust="spacingAndGlyphs">1.414(4587.75)</text>
<text x="1005.5" y="160.3" font-family="Liberation Sans, sans-serif" font-size="13" fill="#f2f2f2" font-weight="bold" text-anchor="start" textLength="94.2" lengthAdjust="spacingAndGlyphs">1.272(4441.01)</text>
<text x="1032.4" y="186.2" font-family="Liberation Sans, sans-serif" font-size="13" fill="#f2f2f2" font-weight="bold" text-anchor="start" textLength="67.3" lengthAdjust="spacingAndGlyphs">1(4159.91)</text>
<text x="1031.7" y="301.1" font-family="Liberation Sans, sans-serif" font-size="13" fill="#f2f2f2" font-weight="bold" text-anchor="start" textLength="68" lengthAdjust="spacingAndGlyphs">0(3126.46)</text>
<rect x="7" y="154.8" width="1101" height="1.3" fill="#fff"/>
<rect x="7" y="231.85" width="1101" height="1.3" fill="#fff"/>
<rect x="716.2" y="91.85" width="391" height="1.3" fill="#fff"/>
<rect x="716.2" y="123.85" width="391" height="1.3" fill="#fff"/>
<rect x="716.2" y="141.95" width="391" height="1.3" fill="#fff"/>
<rect x="716.2" y="180.75" width="391" height="1.3" fill="#fff"/>
<rect x="716.2" y="294.75" width="391" height="1.3" fill="#fff"/>
<line x1="7" y1="180.45" x2="1108" y2="180.45" stroke="#fff" stroke-width="1.15" stroke-dasharray="1.9 1.1"/>
<rect x="806.6" y="179" width="3.2" height="2.2" fill="#fff"/>
<path d="M739.5 179.9 L830.8 200.8 M753.6 220.5 L830.8 200.4" stroke="#fff" stroke-width="1.8" fill="none" stroke-linecap="round"/>
<path d="M694.6 305.1 L710.6 308.3" stroke="#fff" stroke-width="1.6" fill="none" stroke-linecap="round"/>
<rect x="7" y="309" width="1174.5" height="1" fill="#8b8c90"/>
<rect x="7" y="396" width="1174.5" height="1" fill="#8b8c90"/>
<rect x="7" y="484" width="1101.5" height="1" fill="#8b8c90"/>
<rect x="1108" y="44" width="1" height="441" fill="#8b8c90"/>
<polygon points="8.7,354 8.7,347.6 13.1,315.1 16,318 22,323 30.3,329.9 35.3,341.7 38.7,354 45.4,368.7 53,385.5 56.4,383 60.6,390.6 64,391.4 67.7,376.2 71.6,380.8 74.9,370.3 79.1,366.1 84.2,364.4 87.6,364.4 90.9,363.3 93.5,363.3 96.8,360.2 107.8,360.6 112.8,358.9 119.6,358.2 122.9,355.7 124.6,353.2 127.2,348.1 130,346.8 137.8,333.8 141.1,343.4 144.5,337 151.6,350.1 155,355.2 159.2,356.9 162.5,371.2 166.8,378.8 170.9,377.9 173.5,370.8 177.2,374.9 181.9,371.2 185.3,371.7 191.2,367.8 196.2,365.8 199.7,374.9 206.8,359.4 210.2,361.6 214.4,361.9 218.6,360.6 223.6,361.9 228.7,359.4 233.4,354 239.7,334.1 243,332.1 250.6,331.1 254.8,335 261.6,331.1 265.8,331.6 270,335 272.5,326.9 276.7,329.1 280.9,335.8 284.3,339.2 287.7,337.5 291.9,339.2 295.3,334.1 304.5,334.1 307,335.8 311.3,339.2 314.3,339.2 317.2,353.5 321,361.1 328.9,355.7 336.5,358 342.9,356.4 354.2,363.9 357.9,352.7 361,358 365.2,356 370.2,351.8 375.3,353.5 379.5,361.9 382.9,361.1 387.3,365.2 390.9,363.9 394.3,358 397.6,359.4 403.5,364.4 408.6,367 412.8,359.4 416.2,356.5 419.9,362.8 423.8,356 426.3,356.9 431.3,366.1 437.2,365.6 441.8,376.7 446.5,365.3 449,364.9 453.2,361.1 457.5,362.8 463.3,360.2 467.6,362.8 476,357.7 481,356.9 486.9,359.1 490.3,359.7 492.8,358 497,365.8 500.4,361.9 503.8,350.1 508.8,353.2 511.9,358.5 515.9,348.9 519,364.4 522.3,365 527,370.7 532.4,370.7 538.3,371.7 540.9,370 545.1,372.9 548.4,372.9 551.8,369 555.2,371.7 561.1,377.9 563.6,377.4 567.8,373.7 571.2,373.4 573.7,371.7 577.9,377.9 581.7,376.2 585.1,367 589.3,371.7 591.8,371.7 596.9,375.4 600.3,375.9 607,372.9 614.6,372.9 618,377.9 621.8,373.7 626.1,377.9 628.9,371.7 633.1,373.7 637,371.2 640.4,373.7 644.1,370 648,372.9 651.7,366.1 655.5,362.8 658.9,363.3 662.3,353.5 666,343.9 669.9,347.9 673.1,338 677.8,338.8 684.2,339.5 687.9,333.3 692.4,323.7 694.6,322.8 698.8,323.7 703.1,322.8 706.4,331.6 709.8,337.5 713.2,340.5 716.5,342.2 719.9,340 725,334.6 729.2,340.9 732.5,344.7 735.9,343 739.3,348.9 742.7,345.4 746.9,345.9 750.2,350.1 754.1,356 757.6,353.8 759.6,354.5 768.7,367.5 771.8,366.7 775.8,367.7 781.4,354.5 786.9,350 790.5,350.6 794,353.8 798,359.7 802.1,355.4 805.1,341.7 808.6,349.3 808.8,354 808.8,354" fill="#30323e"/>
<polyline points="8.7,347.6 13.1,315.1 16,318 22,323 30.3,329.9 35.3,341.7 38.7,354 45.4,368.7 53,385.5 56.4,383 60.6,390.6 64,391.4 67.7,376.2 71.6,380.8 74.9,370.3 79.1,366.1 84.2,364.4 87.6,364.4 90.9,363.3 93.5,363.3 96.8,360.2 107.8,360.6 112.8,358.9 119.6,358.2 122.9,355.7 124.6,353.2 127.2,348.1 130,346.8 137.8,333.8 141.1,343.4 144.5,337 151.6,350.1 155,355.2 159.2,356.9 162.5,371.2 166.8,378.8 170.9,377.9 173.5,370.8 177.2,374.9 181.9,371.2 185.3,371.7 191.2,367.8 196.2,365.8 199.7,374.9 206.8,359.4 210.2,361.6 214.4,361.9 218.6,360.6 223.6,361.9 228.7,359.4 233.4,354 239.7,334.1 243,332.1 250.6,331.1 254.8,335 261.6,331.1 265.8,331.6 270,335 272.5,326.9 276.7,329.1 280.9,335.8 284.3,339.2 287.7,337.5 291.9,339.2 295.3,334.1 304.5,334.1 307,335.8 311.3,339.2 314.3,339.2 317.2,353.5 321,361.1 328.9,355.7 336.5,358 342.9,356.4 354.2,363.9 357.9,352.7 361,358 365.2,356 370.2,351.8 375.3,353.5 379.5,361.9 382.9,361.1 387.3,365.2 390.9,363.9 394.3,358 397.6,359.4 403.5,364.4 408.6,367 412.8,359.4 416.2,356.5 419.9,362.8 423.8,356 426.3,356.9 431.3,366.1 437.2,365.6 441.8,376.7 446.5,365.3 449,364.9 453.2,361.1 457.5,362.8 463.3,360.2 467.6,362.8 476,357.7 481,356.9 486.9,359.1 490.3,359.7 492.8,358 497,365.8 500.4,361.9 503.8,350.1 508.8,353.2 511.9,358.5 515.9,348.9 519,364.4 522.3,365 527,370.7 532.4,370.7 538.3,371.7 540.9,370 545.1,372.9 548.4,372.9 551.8,369 555.2,371.7 561.1,377.9 563.6,377.4 567.8,373.7 571.2,373.4 573.7,371.7 577.9,377.9 581.7,376.2 585.1,367 589.3,371.7 591.8,371.7 596.9,375.4 600.3,375.9 607,372.9 614.6,372.9 618,377.9 621.8,373.7 626.1,377.9 628.9,371.7 633.1,373.7 637,371.2 640.4,373.7 644.1,370 648,372.9 651.7,366.1 655.5,362.8 658.9,363.3 662.3,353.5 666,343.9 669.9,347.9 673.1,338 677.8,338.8 684.2,339.5 687.9,333.3 692.4,323.7 694.6,322.8 698.8,323.7 703.1,322.8 706.4,331.6 709.8,337.5 713.2,340.5 716.5,342.2 719.9,340 725,334.6 729.2,340.9 732.5,344.7 735.9,343 739.3,348.9 742.7,345.4 746.9,345.9 750.2,350.1 754.1,356 757.6,353.8 759.6,354.5 768.7,367.5 771.8,366.7 775.8,367.7 781.4,354.5 786.9,350 790.5,350.6 794,353.8 798,359.7 802.1,355.4 805.1,341.7 808.6,349.3 808.8,354" fill="none" stroke="#4b4d58" stroke-width="0.8"/>
<text x="15.4" y="330.7" font-family="Liberation Sans, sans-serif" font-size="12.5" fill="#cfd0d3" font-weight="normal" text-anchor="start" textLength="49.4" lengthAdjust="spacingAndGlyphs">CMF (20)</text>
<line x1="7" y1="354.5" x2="1103" y2="354.5" stroke="#737478" stroke-width="1" stroke-dasharray="6 5"/>
<rect x="779.3" y="340.2" width="44.3" height="15.2" fill="rgba(20,100,30,0.50)"/>
<text x="15.4" y="418.1" font-family="Liberation Sans, sans-serif" font-size="12.5" fill="#cfd0d3" font-weight="normal" text-anchor="start" textLength="101.1" lengthAdjust="spacingAndGlyphs">Chaikin Osc (3, 10)</text>
<line x1="7" y1="435.5" x2="1103" y2="435.5" stroke="#737478" stroke-width="1" stroke-dasharray="6 5"/>
<rect x="771.5" y="421.2" width="48.2" height="15" fill="rgba(20,100,30,0.50)"/>
<polyline points="8.4,432.4 15.1,432.4 20.2,433.6 28.6,434.4 36.2,434.4 40.4,437 45.4,444.5 49.7,452.1 52.2,462.2 55.5,464.8 63.5,478.2 67.7,462.2 71.6,461.1 75.8,446.2 82.2,429.7 89.2,425.2 93,428.2 96.5,423.5 105.3,424.8 107.8,426.4 112.8,426.9 115.4,428.5 118.7,434.4 122.6,437.5 129.7,435.3 134.7,434.9 140.6,433.3 144.8,435.3 153.3,437.8 159.2,439.8 166.4,465.6 170.1,460.6 173.5,453 178.5,449.6 187.8,442 195.4,439.5 199.4,445.3 203.4,439.5 206.5,429.7 210.2,428.2 217.7,428.5 222,432.4 226.2,432.4 231.2,428.5 236.3,420.1 239.7,415.9 243.9,406.6 247.6,401.2 250.6,404.1 254.8,411.7 258.2,415.1 262.4,417.6 265.8,421 270,426.4 276.7,425.2 280.1,428.5 283.5,436.1 287.7,436.5 291.5,438.6 295.3,434.9 302,434.1 307,430.2 313.8,428.2 320.5,434.1 324.7,435.3 328.1,437.5 332.3,437.5 336.5,434.9 339.1,435.6 342.9,438.6 349.2,436.5 353.4,440.3 364.3,440.3 371.1,432.4 375.3,433.3 380.3,435.3 386.2,436.5 390.9,438.6 396.8,436.5 404.4,442.9 408.6,442.9 412.8,437 415.8,435.3 419.9,439.5 423.8,433.3 426.3,437 430.5,447.1 434.7,450.4 437.6,449.6 441.8,453.5 444.8,445.4 449,439.5 452.4,436.5 459.1,434.4 464.2,434.4 467.6,436.5 474.3,433.3 481.9,434.9 485.8,431.1 490.3,434.1 496.2,437.5 500.4,438.3 506.8,439.2 511.9,445.4 518.1,444.2 523.2,443.4 529.9,443.2 533.3,442.5 538.3,442.4 544.2,439.5 549.3,437.5 551.8,436.1 555.2,437.5 561.9,439.5 566.1,438.3 570.3,439.2 573.7,438.3 577.9,441.5 581.7,443.4 588.5,442.4 592.7,442.9 599.9,446.6 608.7,442.9 617.1,442.5 621.3,439.5 625.5,439.2 628.9,437.5 635.7,436.1 639.9,437.3 643.2,435.3 650.8,436.1 659.2,434.4 665.5,425.2 669.4,426.4 672.7,425.5 683.7,428.5 687.6,426.4 691.3,421 694.6,413.4 698.8,414.6 703.1,413.4 707.3,425.2 712.3,435.3 716.5,439.5 720.7,438.3 724.6,432.4 728,433.6 731.7,438.6 735.1,434.9 739.3,434.4 745,432.3 747,432.8 749.5,437.9 753.1,442.9 757.1,444.4 760.2,444.4 764.2,442.4 770.3,440.4 775.3,436.9 779.3,432.8 782.4,430.3 789.4,430.1 793.5,432.1 797.5,433.1 801.1,433.1 804.1,428.8 808.6,427.1" fill="none" stroke="#e0e0e0" stroke-width="1.05" stroke-linejoin="round"/>
<defs><clipPath id="cp1"><rect x="1108" y="44" width="74" height="265"/></clipPath></defs>
<rect x="1108" y="62" width="4" height="1" fill="#8b8c90"/>
<text x="1115" y="67" font-family="Liberation Sans, sans-serif" font-size="11" fill="#d6d6d6" font-weight="normal" text-anchor="start">5600.00</text>
<rect x="1108" y="92" width="4" height="1" fill="#8b8c90"/>
<text x="1115" y="97.4" font-family="Liberation Sans, sans-serif" font-size="11" fill="#d6d6d6" font-weight="normal" text-anchor="start">5200.00</text>
<rect x="1108" y="132" width="4" height="1" fill="#8b8c90"/>
<text x="1115" y="137.3" font-family="Liberation Sans, sans-serif" font-size="11" fill="#d6d6d6" font-weight="normal" text-anchor="start">4700.00</text>
<rect x="1108" y="168" width="4" height="1" fill="#8b8c90"/>
<text x="1115" y="173.2" font-family="Liberation Sans, sans-serif" font-size="11" fill="#d6d6d6" font-weight="normal" text-anchor="start">4300.00</text>
<rect x="1108" y="208" width="4" height="1" fill="#8b8c90"/>
<text x="1115" y="212.7" font-family="Liberation Sans, sans-serif" font-size="11" fill="#d6d6d6" font-weight="normal" text-anchor="start">3900.00</text>
<rect x="1108" y="240" width="4" height="1" fill="#8b8c90"/>
<text x="1115" y="245.4" font-family="Liberation Sans, sans-serif" font-size="11" fill="#d6d6d6" font-weight="normal" text-anchor="start">3600.00</text>
<rect x="1108" y="273" width="4" height="1" fill="#8b8c90"/>
<text x="1115" y="278.1" font-family="Liberation Sans, sans-serif" font-size="11" fill="#d6d6d6" font-weight="normal" text-anchor="start">3300.00</text>
<rect x="1108" y="304" width="4" height="1" fill="#8b8c90"/>
<text x="1115" y="309.5" font-family="Liberation Sans, sans-serif" font-size="11" fill="#d6d6d6" font-weight="normal" text-anchor="start" clip-path="url(#cp1)">3060.00</text>
<rect x="1108" y="354" width="4" height="1" fill="#8b8c90"/>
<text x="1115" y="359.3" font-family="Liberation Sans, sans-serif" font-size="11" fill="#d6d6d6" font-weight="normal" text-anchor="start">0.0000</text>
<rect x="1108" y="435" width="4" height="1" fill="#8b8c90"/>
<text x="1115" y="440.3" font-family="Liberation Sans, sans-serif" font-size="11" fill="#d6d6d6" font-weight="normal" text-anchor="start">0.0000</text>
<rect x="1108" y="478" width="4" height="1" fill="#8b8c90"/>
<text x="1115" y="482.6" font-family="Liberation Sans, sans-serif" font-size="11" fill="#d6d6d6" font-weight="normal" text-anchor="start">-10000.0000</text>
<rect x="1108.5" y="147" width="49.5" height="16.8" fill="#fff"/>
<rect x="1108.5" y="154.9" width="3.5" height="1" fill="#222"/>
<text x="1116.3" y="159.4" font-family="Liberation Sans, sans-serif" font-size="11" fill="#111" font-weight="normal" text-anchor="start" textLength="37.4" lengthAdjust="spacingAndGlyphs">4440.00</text>
<rect x="1108.5" y="172.1" width="50.5" height="16.6" fill="#fff"/>
<rect x="1108.5" y="179.9" width="3.5" height="1" fill="#222"/>
<text x="1116.3" y="184.4" font-family="Liberation Sans, sans-serif" font-size="11" fill="#111" font-weight="normal" text-anchor="start" textLength="37.4" lengthAdjust="spacingAndGlyphs">4166.06</text>
<rect x="1108.5" y="190.3" width="50.5" height="16.2" fill="#fff"/>
<text x="1112" y="202.4" font-family="Liberation Sans, sans-serif" font-size="11" fill="#111" font-weight="normal" text-anchor="start" textLength="42.3" lengthAdjust="spacingAndGlyphs">03:44:36</text>
<rect x="1108.5" y="224.1" width="49.5" height="16.7" fill="#fff"/>
<rect x="1108.5" y="231.95" width="3.5" height="1" fill="#222"/>
<text x="1116.3" y="236.45" font-family="Liberation Sans, sans-serif" font-size="11" fill="#111" font-weight="normal" text-anchor="start" textLength="37.4" lengthAdjust="spacingAndGlyphs">3664.71</text>
<rect x="34.9" y="484" width="1" height="4" fill="#8b8c90"/>
<text x="35.4" y="502.2" font-family="Liberation Sans, sans-serif" font-size="11" fill="#d6d6d6" font-weight="normal" text-anchor="middle">19</text>
<rect x="111.9" y="484" width="1" height="4" fill="#8b8c90"/>
<text x="112.4" y="502.2" font-family="Liberation Sans, sans-serif" font-size="11" fill="#d6d6d6" font-weight="normal" text-anchor="middle">12:00</text>
<rect x="188.9" y="484" width="1" height="4" fill="#8b8c90"/>
<text x="189.4" y="502.2" font-family="Liberation Sans, sans-serif" font-size="11" fill="#d6d6d6" font-weight="normal" text-anchor="middle">26</text>
<rect x="298.9" y="484" width="1" height="4" fill="#8b8c90"/>
<text x="299.4" y="502.2" font-family="Liberation Sans, sans-serif" font-size="11" fill="#d6d6d6" font-weight="normal" text-anchor="middle">Dec</text>
<rect x="386.9" y="484" width="1" height="4" fill="#8b8c90"/>
<text x="387.4" y="502.2" font-family="Liberation Sans, sans-serif" font-size="11" fill="#d6d6d6" font-weight="normal" text-anchor="middle">5</text>
<rect x="496.9" y="484" width="1" height="4" fill="#8b8c90"/>
<text x="497.4" y="502.2" font-family="Liberation Sans, sans-serif" font-size="11" fill="#d6d6d6" font-weight="normal" text-anchor="middle">10</text>
<rect x="573.9" y="484" width="1" height="4" fill="#8b8c90"/>
<text x="574.4" y="502.2" font-family="Liberation Sans, sans-serif" font-size="11" fill="#d6d6d6" font-weight="normal" text-anchor="middle">12:00</text>
<rect x="650.91" y="484" width="1" height="4" fill="#8b8c90"/>
<text x="651.41" y="502.2" font-family="Liberation Sans, sans-serif" font-size="11" fill="#d6d6d6" font-weight="normal" text-anchor="middle">17</text>
<rect x="727.91" y="484" width="1" height="4" fill="#8b8c90"/>
<text x="728.41" y="502.2" font-family="Liberation Sans, sans-serif" font-size="11" fill="#d6d6d6" font-weight="normal" text-anchor="middle">12:00</text>
<rect x="804.91" y="484" width="1" height="4" fill="#8b8c90"/>
<text x="805.41" y="502.2" font-family="Liberation Sans, sans-serif" font-size="11" fill="#d6d6d6" font-weight="normal" text-anchor="middle">24</text>
<rect x="892.91" y="484" width="1" height="4" fill="#8b8c90"/>
<text x="893.41" y="502.2" font-family="Liberation Sans, sans-serif" font-size="11" fill="#d6d6d6" font-weight="normal" text-anchor="middle">28</text>
<rect x="980.91" y="484" width="1" height="4" fill="#8b8c90"/>
<text x="981.41" y="502.2" font-family="Liberation Sans, sans-serif" font-size="11" fill="#d6d6d6" font-weight="bold" text-anchor="middle">2019</text>
<text x="6.4" y="532.7" font-family="Liberation Sans, sans-serif" font-size="13" fill="#111" font-weight="normal" text-anchor="start" textLength="71.9" lengthAdjust="spacingAndGlyphs" stroke="#111" stroke-width="0.3">Created with</text>
<g fill="#5bc4e8">
<circle cx="86.1" cy="530.7" r="4"/><circle cx="92.1" cy="525.5" r="4.9"/><circle cx="102.5" cy="531.4" r="3.3"/>
<path d="M93 520.7 L96.9 522.3 L102.1 525.2 L101 531 L92 531 Z"/>
<rect x="86.1" y="527.5" width="16.4" height="7.2"/>
</g>
<path d="M82.7 532.9 L90.4 525.8 L96 533.3 L102.9 524.9" stroke="#fff" stroke-width="1.5" fill="none" stroke-linejoin="miter"/>
<text x="106.4" y="532.7" font-family="Liberation Sans, sans-serif" font-size="13" fill="#3aa6de" font-weight="normal" text-anchor="start" textLength="70" lengthAdjust="spacingAndGlyphs" stroke="#3aa6de" stroke-width="0.3">TradingView</text>
</svg>
</body></html>
